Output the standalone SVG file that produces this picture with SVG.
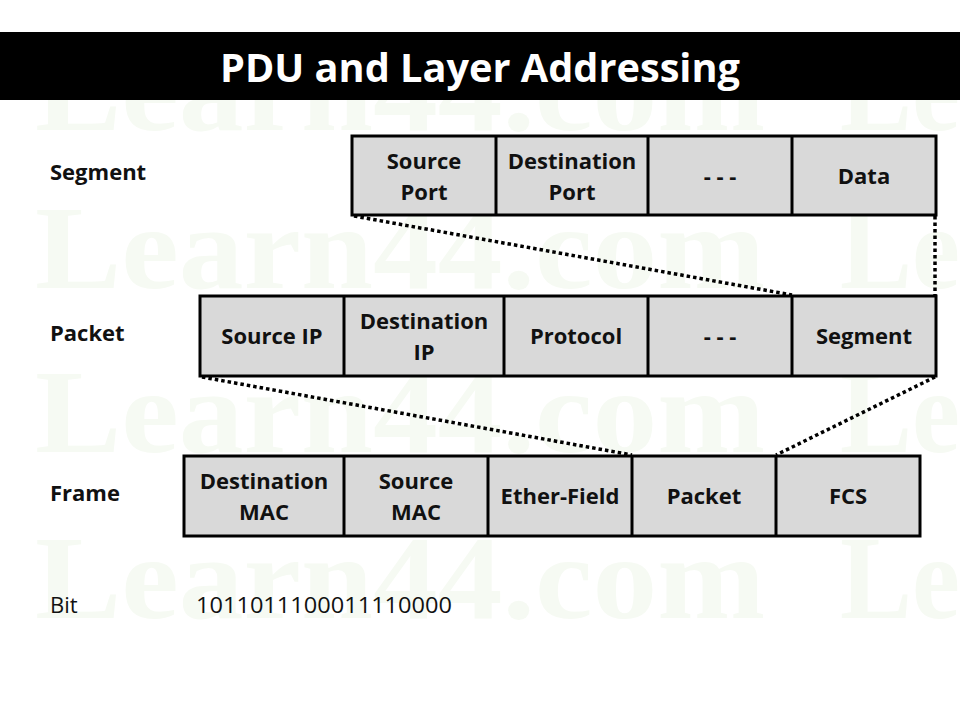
<svg xmlns="http://www.w3.org/2000/svg" width="960" height="720" viewBox="0 0 960 720">
  <style>
    .wm { font-family: "Liberation Serif", "DejaVu Serif", serif; font-weight: bold; font-size: 118px; fill: #f6faf3; }
    .cell { fill: #d9d9d9; stroke: #000; stroke-width: 3; }
    .div { stroke: #000; stroke-width: 3; }
    .t { font-family: "Open Sans", "Liberation Sans", sans-serif; font-weight: bold; font-size: 22px; fill: #111; text-anchor: middle; }
    .lbl { font-family: "Open Sans", "Liberation Sans", sans-serif; font-weight: bold; font-size: 22px; fill: #111; }
    .reg { font-family: "Open Sans", "Liberation Sans", sans-serif; font-size: 22px; fill: #111; }
    .dot { fill: none; stroke: #000; stroke-width: 3.5; stroke-dasharray: 3.5 3; }
  </style>
  <rect width="960" height="720" fill="#fff"/>
  <g id="watermark">
    <text class="wm" x="35" y="130" textLength="730" lengthAdjust="spacingAndGlyphs">Learn44.com</text>
    <text class="wm" x="840" y="130" textLength="120" lengthAdjust="spacingAndGlyphs">Le</text>
    <text class="wm" x="35" y="288" textLength="730" lengthAdjust="spacingAndGlyphs">Learn44.com</text>
    <text class="wm" x="840" y="288" textLength="120" lengthAdjust="spacingAndGlyphs">Le</text>
    <text class="wm" x="35" y="452" textLength="730" lengthAdjust="spacingAndGlyphs">Learn44.com</text>
    <text class="wm" x="840" y="452" textLength="120" lengthAdjust="spacingAndGlyphs">Le</text>
    <text class="wm" x="35" y="618" textLength="730" lengthAdjust="spacingAndGlyphs">Learn44.com</text>
    <text class="wm" x="840" y="618" textLength="120" lengthAdjust="spacingAndGlyphs">Le</text>
  </g>
  <g id="header">
    <rect x="0" y="32" width="960" height="68" fill="#000"/>
    <text x="480" y="82" text-anchor="middle" font-family="Open Sans, Liberation Sans, sans-serif" font-weight="bold" font-size="40" fill="#fff" textLength="520" lengthAdjust="spacingAndGlyphs">PDU and Layer Addressing</text>
  </g>
  <g id="labels">
    <text class="lbl" x="50" y="180">Segment</text>
    <text class="lbl" x="50" y="341">Packet</text>
    <text class="lbl" x="50" y="501">Frame</text>
    <text class="reg" x="50" y="613">Bit</text>
    <text class="reg" x="196" y="613" textLength="256" lengthAdjust="spacingAndGlyphs">1011011100011110000</text>
  </g>
  <g id="connectors">
    <line class="dot" x1="354" y1="216" x2="792" y2="295"/>
    <line class="dot" x1="935" y1="216" x2="935" y2="295"/>
    <line class="dot" x1="202" y1="377" x2="632" y2="455"/>
    <line class="dot" x1="935" y1="377" x2="776" y2="455"/>
  </g>
  <g id="segment">
    <rect class="cell" x="352" y="136" width="584" height="79"/>
    <line class="div" x1="496" y1="136" x2="496" y2="215"/>
    <line class="div" x1="648" y1="136" x2="648" y2="215"/>
    <line class="div" x1="792" y1="136" x2="792" y2="215"/>
    <text class="t" x="424" y="169">Source</text>
    <text class="t" x="424" y="200">Port</text>
    <text class="t" x="572" y="169">Destination</text>
    <text class="t" x="572" y="200">Port</text>
    <text class="t" x="720" y="184">- - -</text>
    <text class="t" x="864" y="184">Data</text>
  </g>
  <g id="packet">
    <rect class="cell" x="200" y="296" width="736" height="80"/>
    <line class="div" x1="344" y1="296" x2="344" y2="376"/>
    <line class="div" x1="504" y1="296" x2="504" y2="376"/>
    <line class="div" x1="648" y1="296" x2="648" y2="376"/>
    <line class="div" x1="792" y1="296" x2="792" y2="376"/>
    <text class="t" x="272" y="344">Source IP</text>
    <text class="t" x="424" y="329">Destination</text>
    <text class="t" x="424" y="360">IP</text>
    <text class="t" x="576" y="344">Protocol</text>
    <text class="t" x="720" y="344">- - -</text>
    <text class="t" x="864" y="344">Segment</text>
  </g>
  <g id="frame">
    <rect class="cell" x="184" y="456" width="736" height="80"/>
    <line class="div" x1="344" y1="456" x2="344" y2="536"/>
    <line class="div" x1="488" y1="456" x2="488" y2="536"/>
    <line class="div" x1="632" y1="456" x2="632" y2="536"/>
    <line class="div" x1="776" y1="456" x2="776" y2="536"/>
    <text class="t" x="264" y="489">Destination</text>
    <text class="t" x="264" y="520">MAC</text>
    <text class="t" x="416" y="489">Source</text>
    <text class="t" x="416" y="520">MAC</text>
    <text class="t" x="560" y="504">Ether-Field</text>
    <text class="t" x="704" y="504">Packet</text>
    <text class="t" x="848" y="504">FCS</text>
  </g>
</svg>
